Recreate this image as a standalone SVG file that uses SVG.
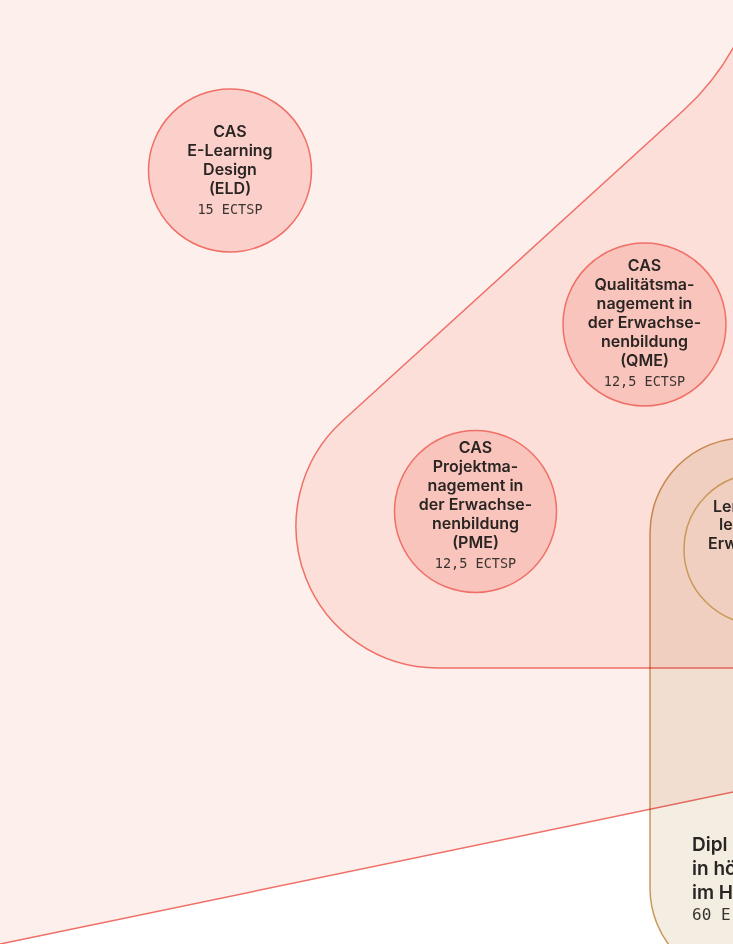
<svg xmlns="http://www.w3.org/2000/svg" width="733" height="944" viewBox="0 0 733 944">
  <defs>
    <style>
      .area-outer { fill: #fdefec; stroke: #f06f67; stroke-width: 1.5; }
      .area-mid { fill: #fcdfd9; stroke: #f06f67; stroke-width: 1.5; }
      .area-tan { fill: #f3ede2; stroke: #c9995a; stroke-width: 1.5; mix-blend-mode: multiply; }
      .ring-tan { fill: none; stroke: #c9995a; stroke-width: 1.5; }
      .cas-light { fill: #fcd0ca; stroke: #f06f67; stroke-width: 1.5; }
      .cas { fill: #f9c4bb; stroke: #f06f67; stroke-width: 1.5; }
      .t { font-family: Inter, "Noto Sans", "Liberation Sans", sans-serif; font-weight: 600; font-size: 16px; fill: #2a2523; text-anchor: middle; }
      .m { font-family: "DejaVu Sans Mono", "Liberation Mono", monospace; font-size: 13.5px; fill: #3a3431; text-anchor: middle; }
      .tl { font-family: Inter, "Noto Sans", "Liberation Sans", sans-serif; font-weight: 600; font-size: 19px; fill: #2a2523; }
      .ml { font-family: "DejaVu Sans Mono", "Liberation Mono", monospace; font-size: 16px; fill: #3a3431; }
    </style>
  </defs>
  <rect x="0" y="0" width="733" height="944" fill="#ffffff"/>

  <g id="area-outer">
    <path class="area-outer" d="M -10,946.1 L 760,786.4 L 760,-20 L -10,-20 Z"/>
  </g>
  <g id="area-mid">
    <path class="area-mid" d="M 800,668 L 438,668 A 142 142 0 0 1 342.4,421 L 683.1,110.8 A 252 252 0 0 0 765.5,-75.6 L 800,-75.6 Z"/>
  </g>
  <g id="area-diploma">
    <rect class="area-tan" x="650" y="438" width="260" height="545" rx="95" ry="95"/>
    <text class="tl" x="692" y="851">Dipl</text>
    <text class="tl" x="692" y="875">in hö</text>
    <text class="tl" x="692" y="899">im H</text>
    <text class="ml" x="692" y="920">60 E</text>
  </g>

  <g id="node-lernen">
    <circle class="ring-tan" cx="759" cy="549" r="75"/>
    <text class="tl" style="font-size:16px" x="713" y="512">Ler</text>
    <text class="tl" style="font-size:16px" x="719" y="530">lei</text>
    <text class="tl" style="font-size:16px" x="708" y="549">Erw</text>
  </g>

  <g id="node-eld">
    <circle class="cas-light" cx="230" cy="170.5" r="81.5"/>
    <text class="t" x="230" y="137">CAS</text>
    <text class="t" x="230" y="156">E-Learning</text>
    <text class="t" x="230" y="175">Design</text>
    <text class="t" x="230" y="194">(ELD)</text>
    <text class="m" x="230" y="214">15 ECTSP</text>
  </g>

  <g id="node-qme">
    <circle class="cas" cx="644.5" cy="324.5" r="81.5"/>
    <text class="t" x="644.5" y="271">CAS</text>
    <text class="t" x="644.5" y="290">Qualitätsma-</text>
    <text class="t" x="644.5" y="309">nagement in</text>
    <text class="t" x="644.5" y="328">der Erwachse-</text>
    <text class="t" x="644.5" y="347">nenbildung</text>
    <text class="t" x="644.5" y="366">(QME)</text>
    <text class="m" x="644.5" y="386">12,5 ECTSP</text>
  </g>

  <g id="node-pme">
    <circle class="cas" cx="475.5" cy="511.5" r="81"/>
    <text class="t" x="475.5" y="453">CAS</text>
    <text class="t" x="475.5" y="472">Projektma-</text>
    <text class="t" x="475.5" y="491">nagement in</text>
    <text class="t" x="475.5" y="510">der Erwachse-</text>
    <text class="t" x="475.5" y="529">nenbildung</text>
    <text class="t" x="475.5" y="548">(PME)</text>
    <text class="m" x="475.5" y="568">12,5 ECTSP</text>
  </g>

  <g id="connectors"></g>
</svg>
